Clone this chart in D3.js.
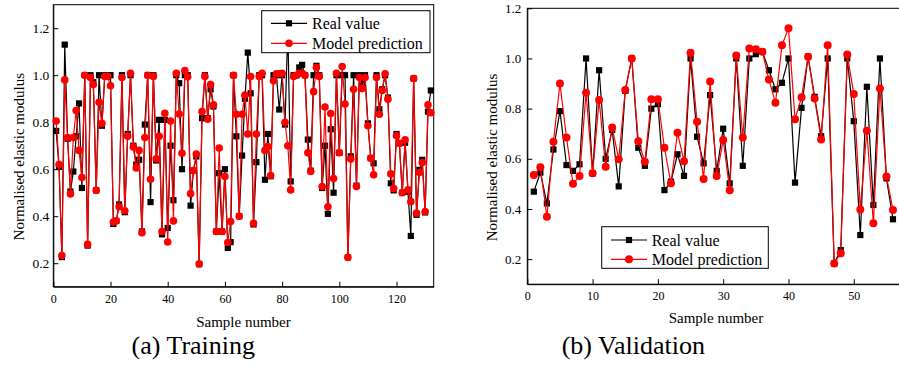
<!DOCTYPE html>
<html><head><meta charset="utf-8">
<script src="https://cdn.jsdelivr.net/npm/d3@7"></script>
<style>
html,body{margin:0;padding:0;background:#fff;}
svg{display:block;}
text{font-family:"Liberation Serif","Times New Roman",serif;fill:#000;}
</style></head>
<body><svg id="c" width="899" height="367"></svg>
<script>
// ---------- data ----------
const trainReal = [0.763,0.61,0.226,1.13,0.73,0.505,0.59,0.74,0.88,0.52,
1.0,0.275,1.0,0.97,0.51,1.0,0.785,1.0,1.0,1.0,
0.367,0.38,0.45,1.0,0.417,0.75,1.0,0.70,0.62,0.64,
0.335,0.79,1.0,0.46,1.0,0.637,0.81,0.323,0.81,0.35,
0.70,0.468,1.0,0.966,0.60,1.0,1.0,0.445,0.594,0.654,
0.196,0.817,1.0,0.817,0.94,0.867,0.335,0.583,0.335,0.60,
0.265,0.29,1.0,0.74,0.40,0.658,0.90,1.096,0.923,0.365,
0.63,1.0,1.0,0.555,0.75,0.57,1.0,1.0,0.854,1.0,
0.79,1.2,0.548,1.0,1.0,1.033,1.044,1.0,0.726,0.594,
1.0,1.04,1.0,0.52,0.70,0.41,0.77,0.50,1.0,0.67,
1.0,1.0,0.225,0.655,1.0,0.53,1.0,0.966,1.0,0.795,
0.647,0.625,1.0,0.855,0.94,1.0,0.905,0.54,0.51,0.75,
0.71,0.50,0.713,0.504,0.316,0.986,0.406,0.597,0.64,0.416,
0.845,0.935];
const trainPred = [0.805,0.62,0.233,0.98,0.735,0.495,0.735,0.85,0.68,0.565,
1.0,0.28,0.99,0.96,0.51,0.885,0.795,0.995,0.995,0.955,
0.375,0.38,0.44,0.99,0.423,0.74,1.008,0.695,0.605,0.68,
0.33,0.735,1.0,0.557,0.995,0.644,0.74,0.335,0.838,0.29,
0.805,0.38,1.008,0.835,0.668,1.02,0.993,0.496,0.594,0.665,
0.197,0.845,0.995,0.813,0.96,0.874,0.335,0.69,0.335,0.569,
0.288,0.377,1.0,0.834,0.40,0.834,0.916,0.75,0.994,0.37,
0.75,0.995,1.008,0.68,0.696,0.573,0.976,1.006,1.006,1.008,
0.80,0.70,0.512,0.994,1.0,1.008,1.008,1.0,0.67,0.59,
0.93,1.033,0.995,0.526,0.865,0.44,0.837,0.56,1.008,0.67,
1.037,0.877,0.225,0.643,0.94,0.526,0.99,0.943,0.99,0.785,
0.647,0.576,0.99,0.834,0.935,1.006,0.898,0.58,0.518,0.742,
0.71,0.50,0.725,0.512,0.462,0.986,0.413,0.586,0.628,0.42,
0.874,0.84];
const valReal = [0.469,0.545,0.422,0.637,0.79,0.575,0.552,0.578,1.0,0.542,
0.953,0.60,0.715,0.49,0.871,1.0,0.644,0.572,0.80,0.818,
0.475,0.509,0.618,0.532,1.0,0.688,0.582,0.854,0.552,0.72,
0.502,1.0,0.572,1.0,1.017,1.027,0.953,0.877,0.903,1.0,
0.505,0.803,1.007,0.847,0.69,1.0,0.183,0.236,1.0,0.75,
0.296,0.887,0.416,1.0,0.522,0.359];
const valPred = [0.535,0.566,0.369,0.668,0.90,0.685,0.50,0.531,0.863,0.542,
0.834,0.568,0.725,0.598,0.874,1.0,0.67,0.588,0.837,0.837,
0.644,0.502,0.704,0.59,1.023,0.748,0.519,0.908,0.531,0.675,
0.475,1.012,0.685,1.04,1.037,1.027,0.916,0.823,1.053,1.12,
0.758,0.845,1.007,0.84,0.677,1.053,0.183,0.223,1.016,0.858,
0.398,0.712,0.343,0.88,0.529,0.396];
const seriesNames = ["Real value","Model prediction"];
const trainXTicks = [0,20,40,60,80,100,120];
const valXTicks = [0,10,20,30,40,50];
const yTicks = [0.2,0.4,0.6,0.8,1.0,1.2];
const panelTitles = ["(a) Training","(b) Validation"];
const xTitle = "Sample number";
const yTitle = "Normalised elastic modulus";

// ---------- drawing ----------
const svg = d3.select("#c");
const RED = "#ff0000";

function panel(o){
  const g = svg.append("g");
  const x = d3.scaleLinear().domain(o.xd).range([o.left,o.right]);
  const y = d3.scaleLinear().domain(o.yd).range([o.bottom,o.top]);

  // frame
  g.append("rect").attr("x",o.left).attr("y",o.top)
   .attr("width",o.right-o.left).attr("height",o.bottom-o.top)
   .attr("fill","none").attr("stroke","#000").attr("stroke-width",1);

  const xa = g.append("g").attr("transform",`translate(0,${o.bottom})`)
    .call(d3.axisBottom(x).tickValues(o.xt).tickFormat(d3.format("d"))
      .tickSizeInner(-5).tickSizeOuter(0).tickPadding(o.xpad));
  xa.selectAll("text").attr("font-size",12).attr("font-family","Liberation Serif");
  const ya = g.append("g").attr("transform",`translate(${o.left},0)`)
    .call(d3.axisLeft(y).tickValues(yTicks).tickFormat(d=>d.toFixed(1))
      .tickSizeInner(-5).tickSizeOuter(0).tickPadding(o.ypad));
  ya.selectAll("text").attr("font-size",o.yfs).attr("font-family","Liberation Serif");
  g.selectAll(".domain").attr("stroke","#000");
  g.selectAll(".tick line").attr("stroke","#000");

  const line = d3.line().x((d,i)=>x(i+1)).y(d=>y(d));
  // real
  g.append("path").datum(o.real).attr("d",line).attr("fill","none")
   .attr("stroke","#000").attr("stroke-width",1.2);
  g.selectAll(".sq").data(o.real).enter().append("rect")
   .attr("x",(d,i)=>x(i+1)-o.sq/2).attr("y",d=>y(d)-o.sq/2)
   .attr("width",o.sq).attr("height",o.sq).attr("fill","#000");
  // prediction
  g.append("path").datum(o.pred).attr("d",line).attr("fill","none")
   .attr("stroke",RED).attr("stroke-width",1.2);
  g.selectAll(".ci").data(o.pred).enter().append("circle")
   .attr("cx",(d,i)=>x(i+1)).attr("cy",d=>y(d)).attr("r",o.r).attr("fill",RED);

  // legend
  const L = o.leg;
  g.append("rect").attr("x",L.x).attr("y",L.y).attr("width",L.w).attr("height",L.h)
   .attr("fill","#fff").attr("stroke","#000").attr("stroke-width",1);
  seriesNames.forEach((name,k)=>{
    const yy = L.rows[k];
    const col = k===0?"#000":RED;
    g.append("line").attr("x1",L.l1).attr("x2",L.l2).attr("y1",yy).attr("y2",yy)
     .attr("stroke",col).attr("stroke-width",1.2);
    const mx=(L.l1+L.l2)/2;
    if(k===0) g.append("rect").attr("x",mx-o.sq/2).attr("y",yy-o.sq/2)
       .attr("width",o.sq).attr("height",o.sq).attr("fill","#000");
    else g.append("circle").attr("cx",mx).attr("cy",yy).attr("r",o.r).attr("fill",RED);
    g.append("text").attr("x",L.tx).attr("y",yy).attr("dy","0.35em")
     .attr("font-size",16).text(name);
  });

  // titles
  g.append("text").attr("x",(o.left+Math.min(o.right,o.xtc*2-o.left))/2).attr("x",o.xtc)
   .attr("y",o.xty).attr("text-anchor","middle").attr("font-size",15).text(xTitle);
  g.append("text").attr("transform",`translate(${o.ytx},${o.yty}) rotate(-90)`)
   .attr("text-anchor","middle").attr("font-size",15).text(yTitle);
  g.append("text").attr("x",o.ptx).attr("y",354).attr("text-anchor","middle")
   .attr("font-size",26).text(o.title);
}

panel({xd:[0,133],yd:[0.1,1.3],left:53.3,right:433.7,top:4.7,bottom:286.7,
  xt:trainXTicks,xpad:8,ypad:4,yfs:13.5,real:trainReal,pred:trainPred,sq:6.2,r:3.8,
  leg:{x:261.7,y:10.7,w:168.3,h:42,rows:[23.3,43.3],l1:271,l2:307,tx:312},
  xtc:243.5,xty:326.7,ytx:24,yty:156.7,ptx:193.3,title:panelTitles[0]});
panel({xd:[0,57],yd:[0.1,1.2],left:527.3,right:899.5,top:8.3,bottom:284.2,
  xt:valXTicks,xpad:7,ypad:6,yfs:13,real:valReal,pred:valPred,sq:6.2,r:4,
  leg:{x:601.7,y:226.7,w:166.6,h:41.6,rows:[240,259.3],l1:611,l2:647,tx:651.7},
  xtc:716,xty:323.3,ytx:496.7,yty:157.5,ptx:633.3,title:panelTitles[1]});
</script></body></html>
